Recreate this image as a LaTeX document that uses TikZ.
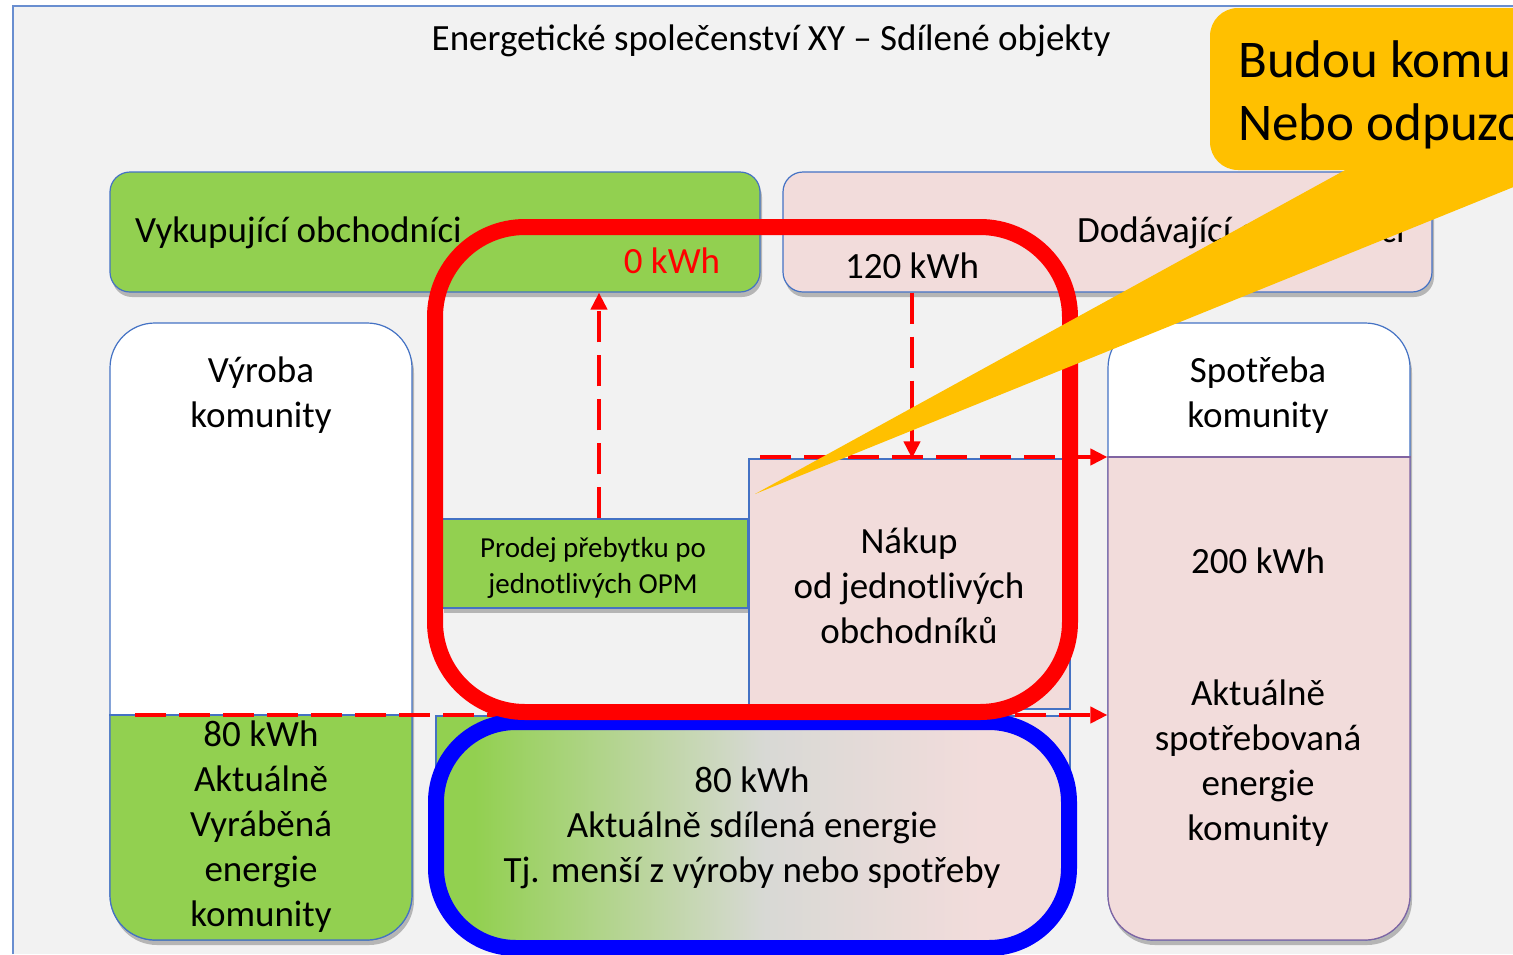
\documentclass[tikz,border=0pt]{standalone}
\usepackage{fontspec}
\setmainfont{Carlito}
\usetikzlibrary{arrows.meta,shadows,calc}
\definecolor{bgray}{HTML}{F2F2F2}
\definecolor{pgreen}{HTML}{92D050}
\definecolor{ppink}{HTML}{F2DCDB}
\definecolor{pblue}{HTML}{4472C4}
\definecolor{ppurple}{HTML}{8064A2}
\definecolor{porange}{HTML}{FFC000}
\definecolor{pmid}{HTML}{D8D9D5}
\definecolor{fullblue}{HTML}{0000FF}
\definecolor{fullred}{HTML}{FF0000}
\pgfdeclarehorizontalshading{sharedsh}{100bp}{color(0bp)=(pgreen); color(28bp)=(pgreen); color(51bp)=(pmid); color(68bp)=(ppink); color(100bp)=(ppink)}
\begin{document}
\begin{tikzpicture}[x=1pt,y=-1pt,
  box/.style={draw=pblue, line width=1.2pt, inner sep=0pt},
  txt/.style={font=\fontsize{37}{45}\selectfont, align=center, inner sep=0pt},
  smalltxt/.style={font=\fontsize{29}{36}\selectfont, align=center, inner sep=0pt},
  dasharrow/.style={draw=fullred, line width=4pt, dash pattern=on 31pt off 13pt, -{Triangle[length=17pt,width=16pt]}},
  shadowed/.style={drop shadow={shadow xshift=2pt, shadow yshift=-5pt, opacity=0.25, fill=black}},
  sharedshade/.style={shading=sharedsh}]
\useasboundingbox (0,0) rectangle (1513,954);
\clip (0,0) rectangle (1513,954);
\fill[white] (0,0) rectangle (1513,954);
\fill[bgray] (13,6) rectangle (1513,954);
\draw[pblue!80, line width=1.2pt] (13,954) -- (13,6) -- (1513,6);

% title
\node[font=\fontsize{37}{44}\selectfont, inner sep=0pt] (title) at (771,41) {Energetické společenství XY – Sdílené objekty};

% top boxes
\node[box, fill=pgreen, rounded corners=20pt, minimum width=650pt, minimum height=120pt, shadowed] (vyk) at (435,232) {};
\node[txt, anchor=west] (vyktxt) at (135,233) {Vykupující obchodníci};
\node[txt, text=fullred] (kwh0) at (672,261) {0 kWh};

\node[box, fill=ppink, rounded corners=20pt, minimum width=649pt, minimum height=120pt, shadowed] (dod) at (1107.5,232) {};
\node[txt, anchor=west] (dodtxt) at (1077,233) {Dodávající obchodníci};
\node[txt] (kwh120) at (912,266) {120 kWh};

% vyroba
\node[box, fill=white, rounded corners=45pt, minimum width=302pt, minimum height=617pt, shadowed] (vyr) at (261,631.5) {};
\begin{scope}
  \clip (100,715) rectangle (420,960);
  \node[box, fill=pgreen, rounded corners=45pt, minimum width=302pt, minimum height=617pt] (vyrg) at (261,631.5) {};
\end{scope}
\draw[pblue, line width=1.2pt] (vyr.west |- 0,715) -- (vyr.east |- 0,715);
\node[txt] (vyrtxt) at (261,395) {Výroba\\komunity};
\node[txt] (vyrgtxt) at (261,827) {80 kWh\\Aktuálně\\Vyráběná\\energie\\komunity};

% spotreba
\node[box, fill=white, rounded corners=45pt, minimum width=302pt, minimum height=617pt, shadowed] (spot) at (1259,631.5) {};
\begin{scope}
  \clip (1090,457) rectangle (1430,960);
  \node[draw=ppurple, line width=1.2pt, fill=ppink, rounded corners=45pt, minimum width=302pt, minimum height=617pt, inner sep=0pt] (spotp) at (1259,631.5) {};
\end{scope}
\draw[ppurple, line width=1.2pt] (spot.west |- 0,457) -- (spot.east |- 0,457);
\node[txt] (spottxt) at (1258,395) {Spotřeba\\komunity};
\node[txt] (kwh200) at (1258,561) {200 kWh};
\node[txt] (spotptxt) at (1258,763) {Aktuálně\\spotřebovaná\\energie\\komunity};

% prodej, nakup
\node[box, fill=pgreen, minimum width=306pt, minimum height=89pt, shadowed] (prodej) at (595,563.5) {};
\node[smalltxt] (prodejtxt) at (593,567.5) {Prodej přebytku po\\jednotlivých OPM};
\node[box, fill=ppink, minimum width=321pt, minimum height=250pt] (nakup) at (909.5,584) {};
\node[txt] (nakuptxt) at (909,586) {Nákup\\od jednotlivých\\obchodníků};

% shared area
\node[box, minimum width=634pt, minimum height=150pt, sharedshade] (shared) at (753,791) {};

% dashed arrows
\coordinate (nakstart) at (760,457);
\coordinate (spottop) at (spot.west |- 0,457);
\coordinate (vyrline) at (135,715);
\coordinate (spotline) at (spot.west |- 0,715);
\draw[dasharrow] ([xshift=4pt]prodej.north) -- ([xshift=4pt]prodej.north |- vyk.south);
\draw[dasharrow] (dod.south -| kwh120) -- (nakup.north -| kwh120);
\draw[dasharrow] (nakstart) -- (spottop);
\draw[dasharrow] (vyrline) -- (spotline);

% blue frame
\node[draw=fullblue, line width=16pt, rounded corners=80pt, minimum width=633pt, minimum height=226pt, inner sep=0pt, sharedshade, drop shadow={shadow xshift=2pt, shadow yshift=-4pt, opacity=0.25, fill=black}] (sdil) at (752.5,835) {};
\node[txt] (sdiltxt) at (752,828) {80 kWh\\Aktuálně sdílená energie\\Tj. menší z výroby nebo spotřeby};

% red frame
\node[draw=fullred, line width=16pt, rounded corners=90pt, minimum width=635pt, minimum height=485pt, inner sep=0pt] (komunita) at (752.5,469.5) {};

% callout
\fill[porange, rounded corners=28pt] (1210,8) rectangle (1640,170);
\fill[porange] (755,494) -- (1347,169) -- (1600,152) -- cycle;
\node[font=\fontsize{53}{62}\selectfont, anchor=base west, inner sep=0pt] (call1) at (1238,77) {Budou komu};
\node[font=\fontsize{53}{62}\selectfont, anchor=base west, inner sep=0pt] (call2) at (1238,140) {Nebo odpuzo};
\end{tikzpicture}
\end{document}
